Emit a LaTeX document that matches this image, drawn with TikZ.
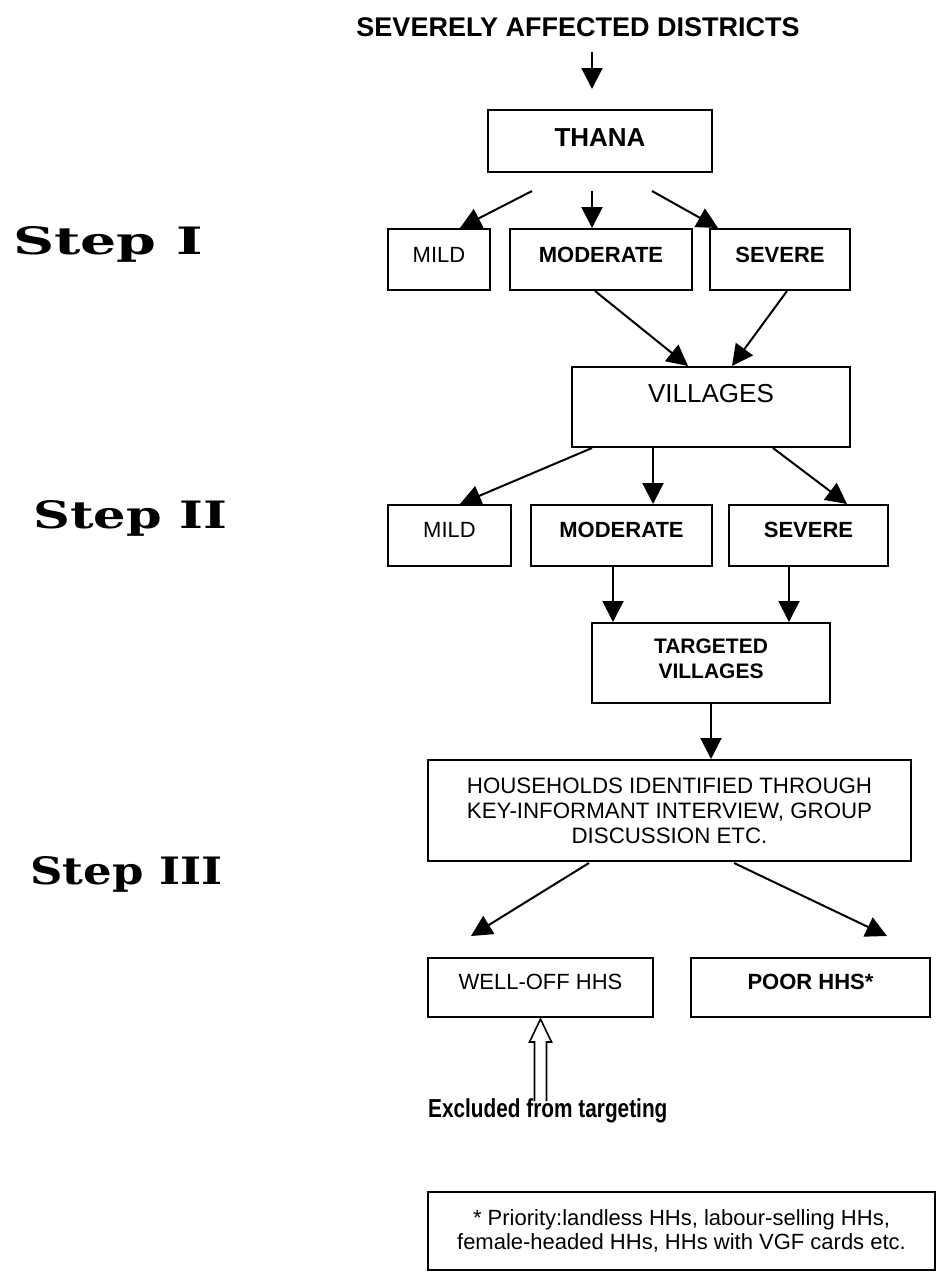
\documentclass[tikz,border=0pt]{standalone}
\usepackage{fontspec}
\setmainfont{Liberation Sans}
\newfontfamily\stepfont{DejaVu Serif}
\usepackage{graphicx}
\usetikzlibrary{arrows.meta,calc}
\begin{document}
\begin{tikzpicture}[x=1pt,y=-1pt,
  box/.style={draw, line width=2pt, inner sep=0pt},
  lbl/.style={inner sep=0pt, font=\fontsize{22}{25}\selectfont},
  lblb/.style={inner sep=0pt, font=\fontsize{22}{25}\bfseries\selectfont},
  arr/.style={line width=2pt, -{Triangle[length=21pt,width=21pt]}},
  hollow/.style={line width=1.6pt, fill=white},
  steplbl/.style={anchor=base west, inner sep=0pt}
]
\useasboundingbox (0,0) rectangle (950,1272);

% title
\node[inner sep=0pt, font=\fontsize{27}{30}\bfseries\selectfont] (title) at (578,27) {SEVERELY AFFECTED DISTRICTS};

% step labels
\node[steplbl] (s1) at (13,254) {\resizebox{190pt}{28pt}{\stepfont\bfseries Step I}};
\node[steplbl] (s2) at (33,528) {\resizebox{194pt}{28pt}{\stepfont\bfseries Step II}};
\node[steplbl] (s3) at (30,884) {\resizebox{192pt}{28pt}{\stepfont\bfseries Step III}};

% boxes
\node[box, minimum width=224pt, minimum height=62pt,
  label={[inner sep=0pt, font=\fontsize{26}{28}\bfseries\selectfont, yshift=3.5pt]center:THANA}] (thana) at (600,141) {};

\node[box, minimum width=102pt, minimum height=61pt, label={[lbl, yshift=5pt]center:MILD}] (mild1) at (439,259.5) {};
\node[box, minimum width=182pt, minimum height=61pt, label={[lblb, yshift=5pt]center:MODERATE}] (mod1) at (601,259.5) {};
\node[box, minimum width=140pt, minimum height=61pt, label={[lblb, yshift=5pt]center:SEVERE}] (sev1) at (780,259.5) {};

\node[box, minimum width=278pt, minimum height=80pt,
  label={[inner sep=0pt, font=\fontsize{26}{28}\selectfont, yshift=13pt]center:VILLAGES}] (vil) at (711,407) {};

\node[box, minimum width=123pt, minimum height=61pt, label={[lbl, yshift=6pt]center:MILD}] (mild2) at (449.5,535.5) {};
\node[box, minimum width=181pt, minimum height=61pt, label={[lblb, yshift=6pt]center:MODERATE}] (mod2) at (621.5,535.5) {};
\node[box, minimum width=159pt, minimum height=61pt, label={[lblb, yshift=6pt]center:SEVERE}] (sev2) at (808.5,535.5) {};

\node[box, minimum width=238pt, minimum height=80pt,
  label={[inner sep=0pt, align=center, font=\fontsize{21}{25}\bfseries\selectfont, yshift=4.5pt]center:{TARGETED\\VILLAGES}}] (targ) at (711,663) {};

\node[box, minimum width=483pt, minimum height=101pt, align=center,
  font=\fontsize{22.3}{25}\selectfont] (hh) at (669.5,810.5)
  {HOUSEHOLDS IDENTIFIED THROUGH\\KEY-INFORMANT INTERVIEW, GROUP\\DISCUSSION ETC.};

\node[box, minimum width=225pt, minimum height=59pt, label={[lbl, yshift=5.5pt]center:WELL-OFF HHS}] (wo) at (540.5,987.5) {};
\node[box, minimum width=239pt, minimum height=59pt, label={[lblb, yshift=5.5pt]center:POOR HHS*}] (poor) at (810.5,987.5) {};

\node[box, minimum width=507pt, minimum height=78pt, align=center,
  font=\fontsize{22}{24}\selectfont] (foot) at (681.5,1231)
  {* Priority:landless HHs, labour-selling HHs,\\female-headed HHs, HHs with VGF cards etc.};

% arrows
\draw[arr] ($(title.south)+(14,15)$) -- ($(thana.north)+(-8,-20)$);
\draw[arr] ($(thana.south)+(-68,18)$) -- ($(mild1.north)+(21,0)$);
\draw[arr] ($(thana.south)+(-8,18)$) -- ($(mod1.north)+(-9,0)$);
\draw[arr] ($(thana.south)+(52,18)$) -- ($(sev1.north)+(-62,0)$);
\draw[arr] ($(mod1.south)+(-6,0)$) -- ($(vil.north)+(-23,0)$);
\draw[arr] ($(sev1.south)+(7,0)$) -- ($(vil.north)+(21,0)$);
\draw[arr] ($(vil.south)+(-119,0)$) -- ($(mild2.north)+(10.5,0)$);
\draw[arr] ($(vil.south)+(-58,0)$) -- ($(mod2.north)+(31.5,0)$);
\draw[arr] ($(vil.south)+(62,0)$) -- ($(sev2.north)+(38.5,0)$);
\draw[arr] ($(mod2.south)+(-8.5,0)$) -- ($(targ.north)+(-98,0)$);
\draw[arr] ($(sev2.south)+(-19.5,0)$) -- ($(targ.north)+(78,0)$);
\draw[arr] (targ.south) -- (targ.south |- hh.north);
\draw[arr] ($(hh.south)+(-80.5,1)$) -- ($(wo.north)+(-69.5,-21)$);
\draw[arr] ($(hh.south)+(64.5,1)$) -- ($(poor.north)+(76.5,-21)$);

% excluded + hollow arrow
\draw[hollow] ($(wo.south)+(-6,83)$) -- ++(0,-59) -- ++(-5,0) -- ($(wo.south)+(0,1)$)
  -- ++(11,23) -- ++(-5,0) -- ++(0,59);
\node[anchor=base west, inner sep=0pt] (excl) at (428,1117)
  {\scalebox{0.8}[1]{\fontsize{26}{28}\bfseries\selectfont Excluded from targeting}};
\end{tikzpicture}
\end{document}
